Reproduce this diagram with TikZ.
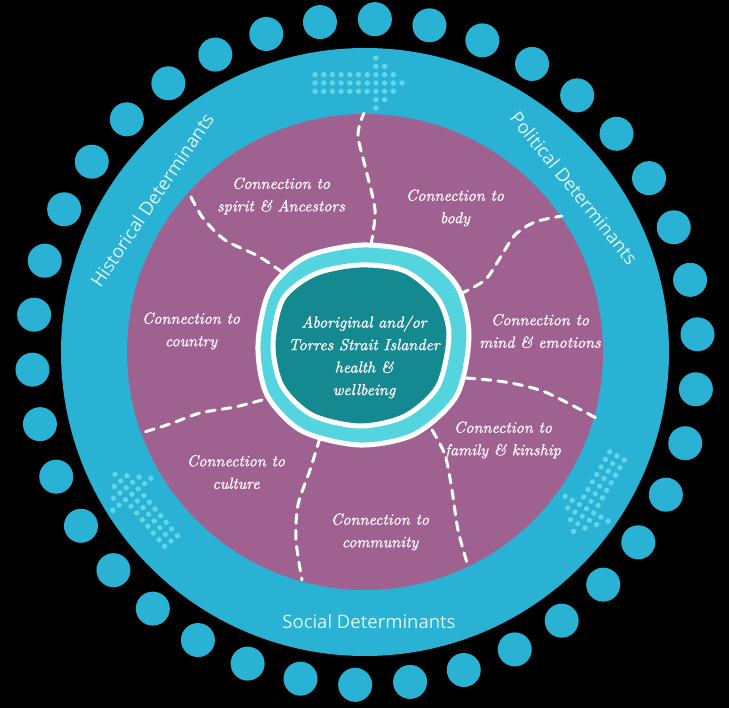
\documentclass[tikz,border=0pt]{standalone}
\usepackage{fontspec}
\newfontfamily\detfont{Open Sans}
\newfontfamily\labfont{lmroman10-italic.otf}[FakeBold=1.6]
\definecolor{ringblue}{RGB}{42,178,212}
\definecolor{purp}{RGB}{159,98,144}
\definecolor{arrdot}{RGB}{96,214,232}
\definecolor{dettext}{RGB}{218,244,250}
\definecolor{lightcyan}{RGB}{84,212,222}
\definecolor{teal}{RGB}{20,138,144}
\definecolor{labtext}{RGB}{252,240,248}
\tikzset{
  detlabel/.style={text=dettext, font=\detfont\fontsize{18.5}{22}\selectfont, inner sep=0pt},
  conlabel/.style={text=labtext, align=center, font=\labfont\fontsize{16}{22.5}\selectfont, inner sep=0pt},
  sepline/.style={white, line width=3pt, dash pattern=on 9pt off 7pt, line cap=round},
  adot/.style={fill=arrdot},
  dotarrow/.pic={
    \foreach \i in {0,...,6}{\foreach \j in {-1,0,1}{\fill[adot] (\i*8.7,\j*8.3) circle[radius=2.7pt];}}
    \foreach \j in {-3,...,3}{\fill[adot] (7*8.7,\j*8.3) circle[radius=2.7pt];}
    \foreach \j in {-2,...,2}{\fill[adot] (8*8.7,\j*8.3) circle[radius=2.7pt];}
    \foreach \j in {-1,0,1}{\fill[adot] (9*8.7,\j*8.3) circle[radius=2.7pt];}
    \fill[adot] (10*8.7,0) circle[radius=2.7pt];
  }
}
\begin{document}
\begin{tikzpicture}[x=1pt,y=-1pt]
\useasboundingbox (0,0) rectangle (729,708);
\fill[black] (0,0) rectangle (729,708);
\coordinate (C) at (365,352);
% outer ring of dots
\foreach \k in {0,...,37}{
  \fill[ringblue] (C) ++({-(88.3+\k*9.474)}:333) circle[radius=17pt];
}
% big rings
\fill[ringblue] (C) circle[radius=304pt];
\fill[purp] (C) circle[radius=238pt];
% dotted arrows (all running clockwise)
\pic at (315,83) {dotarrow};
\pic[rotate=240] at (617,456) {dotarrow};
\pic[rotate=130] at (171,541) {dotarrow};
% separator dashed lines
\draw[sepline] plot[smooth] coordinates {(282,272) (258,256) (225,240) (203,218) (190,195)};
\draw[sepline] plot[smooth] coordinates {(371,245) (375,210) (366,170) (358,135) (364,113)};
\draw[sepline] plot[smooth] coordinates {(460,294) (485,280) (500,258) (515,235) (535,222) (562,216)};
\draw[sepline] plot[smooth] coordinates {(466,378) (505,382) (545,392) (596,418)};
\draw[sepline] plot[smooth] coordinates {(432,430) (445,455) (452,490) (458,530) (468,566)};
\draw[sepline] plot[smooth] coordinates {(320,438) (310,470) (298,505) (296,540) (302,580)};
\draw[sepline] plot[smooth] coordinates {(262,400) (235,407) (200,413) (170,424) (141,433)};
% central blob
\filldraw[fill=lightcyan, draw=white, line width=5pt] plot[smooth cycle] coordinates
  {(363,245) (420,254) (457,286) (469,335) (457,395) (415,434) (360,445) (302,431) (267,395) (258,345) (270,290) (306,257)};
\filldraw[fill=teal, draw=white, line width=5pt] plot[smooth cycle] coordinates
  {(360,265) (405,271) (438,299) (449,335) (438,386) (405,416) (360,426) (312,415) (282,386) (273,345) (283,299) (315,274)};
\node[conlabel] (hub) at (364,357) {Aboriginal and/or\\Torres Strait Islander\\health \&\\wellbeing};
% labels
\node[conlabel] (spirit) at (281,196) {Connection to\\spirit \& Ancestors};
\node[conlabel] (body) at (455,208) {Connection to\\body};
\node[conlabel] (mind) at (540,331) {Connection to\\mind \& emotions};
\node[conlabel] (family) at (503,440) {Connection to\\family \& kinship};
\node[conlabel] (community) at (380,532) {Connection to\\community};
\node[conlabel] (culture) at (236,472) {Connection to\\culture};
\node[conlabel] (country) at (191,331) {Connection to\\country};
% determinants
\node[detlabel, rotate=56] (hist) at (152,200) {Historical Determinants};
\node[detlabel, rotate=-51] (pol) at (574,188) {Political Determinants};
\node[detlabel] (soc) at (369,622) {Social Determinants};
\end{tikzpicture}
\end{document}
